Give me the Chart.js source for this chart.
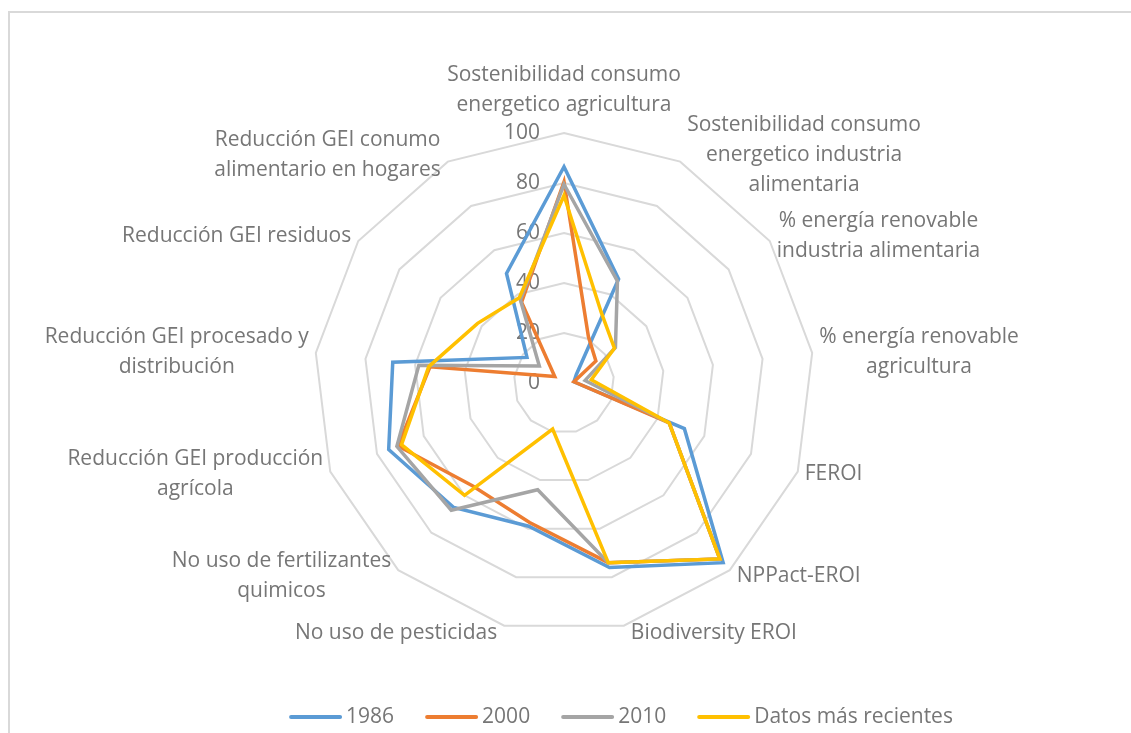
<!DOCTYPE html>
<html>
<head>
<meta charset="utf-8">
<script src="https://cdn.jsdelivr.net/npm/chart.js@4"></script>
<style>
  html, body { margin: 0; padding: 0; background: #fff; }
  #wrap { position: relative; width: 1131px; height: 733px; }
</style>
</head>
<body>
<div id="wrap"><canvas id="radar" width="1131" height="733"></canvas></div>
<script>
// axis names, clockwise from the top (split in lines like the original)
const categories = [
  ['Sostenibilidad consumo', 'energetico agricultura'],
  ['Sostenibilidad consumo', 'energetico industria', 'alimentaria'],
  ['% energía renovable', 'industria alimentaria'],
  ['% energía renovable', 'agricultura'],
  ['FEROI'],
  ['NPPact-EROI'],
  ['Biodiversity EROI'],
  ['No uso de pesticidas'],
  ['No uso de fertilizantes', 'quimicos'],
  ['Reducción GEI producción', 'agrícola'],
  ['Reducción GEI procesado y', 'distribución'],
  ['Reducción GEI residuos'],
  ['Reducción GEI conumo', 'alimentario en hogares']
];
const values1986   = [86.5, 47, 6, 4, 51.5, 96, 76, 59, 66.5, 75, 69, 18, 49.5];
const values2000   = [80.5, 21, 15.5, 4, 45, 94, 74, 57.5, 55, 71, 54, 4.5, 36.5];
const values2010   = [79.5, 46, 25, 8.5, 45, 94, 74, 44, 68, 71.5, 58.5, 12, 37.5];
const valuesRecent = [75, 32, 24.5, 11, 45, 94, 74, 19, 60, 69.5, 54.5, 42, 38.5];
const seriesNames = ['1986', '2000', '2010', 'Datos más recientes'];
const seriesColors = ['#5b9bd5', '#ed7d31', '#a5a5a5', '#ffc000'];
const tickValues = [0, 20, 40, 60, 80, 100];

const FONT = '21px "Open Sans"';
const TEXT_COLOR = '#767676';

//draws frame, tick labels, axis names and legend the way excel does
const excelLook = {
  id: 'excelLook',
  beforeDraw(chart) {
    const ctx = chart.ctx;
    ctx.save();
    ctx.strokeStyle = '#d9d9d9';
    ctx.lineWidth = 2;
    ctx.strokeRect(9, 12, 1400, 1000);
    ctx.restore();
  },
  beforeDatasetsDraw(chart) {
    const ctx = chart.ctx;
    const sc = chart.scales.r;
    ctx.save();
    ctx.font = FONT;
    ctx.fillStyle = TEXT_COLOR;
    ctx.textAlign = 'right';
    ctx.textBaseline = 'middle';
    tickValues.forEach(v => {
      const y = sc.yCenter - sc.getDistanceFromCenterForValue(v);
      ctx.fillText(String(v), sc.xCenter - 24, y);
    });
    ctx.restore();
  },
  afterDraw(chart) {
    const ctx = chart.ctx;
    const sc = chart.scales.r;
    const r = sc.drawingArea;
    const lh = 30;
    ctx.save();
    ctx.font = FONT;
    ctx.fillStyle = TEXT_COLOR;
    ctx.textAlign = 'center';
    ctx.textBaseline = 'middle';
    // axis names
    categories.forEach((lines, i) => {
      const a = sc.getIndexAngle(i);
      const p = sc.getPointPosition(i, r);
      const s = Math.sin(a), c = Math.cos(a);
      const w = Math.max(...lines.map(t => ctx.measureText(t).width));
      const n = lines.length;
      let cx, cy;
      if (Math.abs(s) < 0.05) {
        cx = p.x;
        cy = c > 0 ? p.y - 13 - n * lh / 2 : p.y + 13 + n * lh / 2;
      } else {
        cx = s > 0 ? p.x + 7 + w / 2 : p.x - 7 - w / 2;
        cy = p.y - 8 * c;
      }
      lines.forEach((t, j) => {
        ctx.fillText(t, cx, cy - (n - 1) * lh / 2 + j * lh);
      });
    });
    // legend
    const sample = 53, gap = 4, itemGap = 31, ly = 717;
    const widths = seriesNames.map(t => ctx.measureText(t).width);
    const total = widths.reduce((s, w) => s + sample + gap + w, 0) + itemGap * (seriesNames.length - 1);
    let x = 621 - total / 2;
    ctx.textAlign = 'left';
    seriesNames.forEach((name, i) => {
      ctx.strokeStyle = seriesColors[i];
      ctx.lineWidth = 4;
      ctx.lineCap = 'round';
      ctx.beginPath();
      ctx.moveTo(x + 2, ly);
      ctx.lineTo(x + sample - 2, ly);
      ctx.stroke();
      ctx.fillText(name, x + sample + gap, ly);
      x += sample + gap + widths[i] + itemGap;
    });
    ctx.restore();
  }
};

const seriesValues = [values1986, values2000, values2010, valuesRecent];

new Chart(document.getElementById('radar'), {
  type: 'radar',
  data: {
    labels: categories.map(l => l.join(' ')),
    datasets: seriesNames.map((name, i) => ({
      label: name,
      data: seriesValues[i],
      borderColor: seriesColors[i],
      backgroundColor: seriesColors[i],
      borderWidth: 3.5,
      borderJoinStyle: 'miter',
      fill: false,
      pointRadius: 0,
      pointHoverRadius: 0,
      tension: 0,
      order: seriesNames.length - i
    }))
  },
  options: {
    responsive: false,
    devicePixelRatio: 1,
    animation: false,
    layout: { padding: { left: 314, right: 317, top: 133, bottom: 100 } },
    plugins: {
      legend: { display: false },
      tooltip: { enabled: false }
    },
    scales: {
      r: {
        min: 0,
        max: 100,
        ticks: { display: false, stepSize: 20 },
        grid: { color: '#d9d9d9', lineWidth: 2, circular: false },
        angleLines: { display: false },
        pointLabels: { display: false }
      }
    }
  },
  plugins: [excelLook]
});
</script>
</body>
</html>
